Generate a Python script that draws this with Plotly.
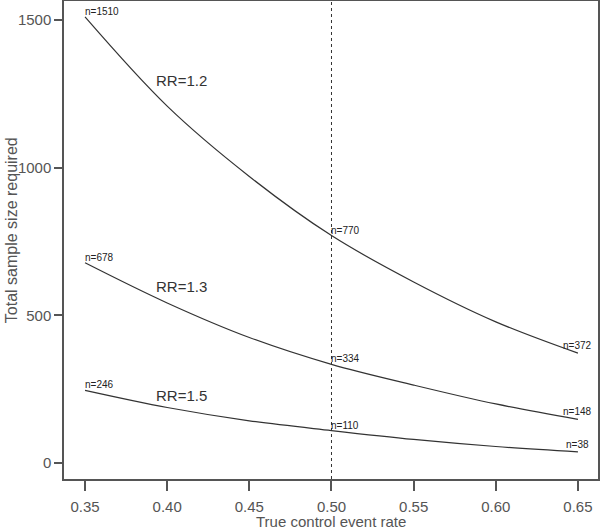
import plotly.graph_objects as go

# control event rate (x) and total sample size
event_rate = [0.35, 0.40, 0.45, 0.50, 0.55, 0.60, 0.65]
n_rr12 = [1510, 1208, 970, 770, 613, 478, 372]
n_rr13 = [678, 542, 425, 334, 264, 200, 148]
n_rr15 = [246, 188, 143, 110, 80, 56, 38]

rr_labels = ["RR=1.2", "RR=1.3", "RR=1.5"]
rr_label_y = [1296, 596, 230]

line_col = "#333333"
axis_col = "#555555"
txt_col = "#555555"

fig = go.Figure()
for ys in [n_rr12, n_rr13, n_rr15]:
    fig.add_trace(go.Scatter(x=event_rate, y=ys, mode="lines",
                             line=dict(color=line_col, width=1.2, shape="spline"),
                             showlegend=False, hoverinfo="skip"))

# n= labels at start, middle (0.50) and end
for ys in [n_rr12, n_rr13, n_rr15]:
    fig.add_annotation(x=event_rate[0], y=ys[0], text="n=%d" % ys[0],
                       xanchor="left", yanchor="bottom", showarrow=False,
                       xshift=-2, yshift=-2, font=dict(size=10, color="#222"))
    fig.add_annotation(x=event_rate[3], y=ys[3], text="n=%d" % ys[3],
                       xanchor="left", yanchor="bottom", showarrow=False,
                       xshift=-2, yshift=-2, font=dict(size=10, color="#222"))
    fig.add_annotation(x=event_rate[-1], y=ys[-1], text="n=%d" % ys[-1],
                       xanchor="center", yanchor="bottom", showarrow=False,
                       yshift=0, font=dict(size=10, color="#222"))

for lab, y in zip(rr_labels, rr_label_y):
    fig.add_annotation(x=0.409, y=y, text=lab, showarrow=False,
                       font=dict(size=15, color="#333"))

# axis titles placed as annotations
fig.add_annotation(x=0.5, y=-0.089, xref="paper", yref="paper",
                   text="True control event rate", showarrow=False,
                   xanchor="center", yanchor="middle",
                   font=dict(size=15, color=txt_col))
fig.add_annotation(x=-0.097, y=0.521, xref="paper", yref="paper",
                   text="Total sample size required", showarrow=False,
                   textangle=-90, xanchor="center", yanchor="middle",
                   font=dict(size=16, color=txt_col))

# dotted reference line at 0.5
fig.add_shape(type="line", x0=0.5, x1=0.5, y0=0, y1=1, yref="paper",
              line=dict(color="#333", width=1, dash="dot"))

fig.update_xaxes(range=[0.3372, 0.6622], tickvals=event_rate,
                 ticktext=["%.2f" % v for v in event_rate],
                 showline=True, linecolor=axis_col, linewidth=1.5, mirror=True,
                 ticks="outside", ticklen=10, tickcolor=axis_col, tickwidth=1.5,
                 ticklabelstandoff=3,
                 showgrid=False, zeroline=False,
                 tickfont=dict(size=15, color=txt_col))
fig.update_yaxes(range=[-54, 1564], tickvals=[0, 500, 1000, 1500],
                 showline=True, linecolor=axis_col, linewidth=1.5, mirror=True,
                 ticks="outside", ticklen=8, tickcolor=axis_col, tickwidth=1.5,
                 showgrid=False, zeroline=False,
                 tickfont=dict(size=15, color=txt_col))
fig.update_layout(width=600, height=531,
                  margin=dict(l=64, r=2, t=1, b=52, autoexpand=False),
                  plot_bgcolor="white", paper_bgcolor="white",
                  font=dict(family="Liberation Sans, Arial, sans-serif"))
fig.write_html("out.html", config={"displayModeBar": False},
               post_script="document.body.style.margin='0';")
